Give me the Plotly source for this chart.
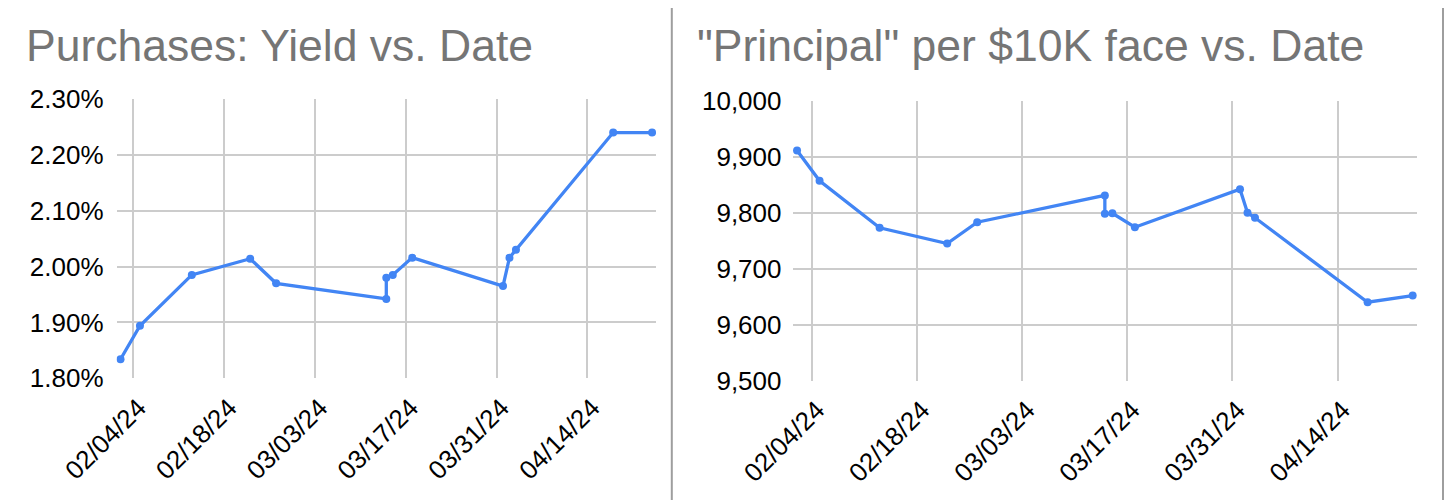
import plotly.graph_objects as go

# ---- data ----
purchase_dates = ["2024-02-02", "2024-02-05", "2024-02-13", "2024-02-22", "2024-02-26",
                  "2024-03-14", "2024-03-14", "2024-03-15", "2024-03-18",
                  "2024-04-01", "2024-04-02", "2024-04-03", "2024-04-18", "2024-04-24"]
yield_pct = [1.834, 1.894, 1.985, 2.014, 1.970, 1.942, 1.980, 1.985, 2.016,
             1.965, 2.016, 2.030, 2.240, 2.240]
principal = [9911, 9857, 9773, 9745, 9783, 9831, 9798, 9799, 9774,
             9842, 9800, 9791, 9640, 9652]

tick_dates = ["2024-02-04", "2024-02-18", "2024-03-03", "2024-03-17", "2024-03-31", "2024-04-14"]
tick_labels = ["02/04/24", "02/18/24", "03/03/24", "03/17/24", "03/31/24", "04/14/24"]
yield_ticks = [1.80, 1.90, 2.00, 2.10, 2.20, 2.30]
yield_tick_labels = ["1.80%", "1.90%", "2.00%", "2.10%", "2.20%", "2.30%"]
principal_ticks = [9500, 9600, 9700, 9800, 9900, 10000]
principal_tick_labels = ["9,500", "9,600", "9,700", "9,800", "9,900", "10,000"]

title_left = "Purchases: Yield vs. Date"
title_right = "\"Principal\" per $10K face vs. Date"

# ---- styling ----
OX, OY = 8, 8            # page body margin in the browser
W, H = 1453 - OX, 500 - OY
BLUE = "#4285F4"
GRID = "#cccccc"
BORDER = "#9e9e9e"
FONT = "Arial, Liberation Sans, sans-serif"
TICK_SIZE = 26
TITLE_SIZE = 44.5
x_range = ["2024-02-01 09:30", "2024-04-24 14:30"]


def px(x):
    return (x - OX) / W


def py(y):
    return 1 - (y - OY) / H


fig = go.Figure()
fig.add_trace(go.Scatter(x=purchase_dates, y=yield_pct, mode="lines+markers",
                         line=dict(color=BLUE, width=3.3), marker=dict(size=8, color=BLUE),
                         xaxis="x", yaxis="y", showlegend=False))
fig.add_trace(go.Scatter(x=purchase_dates, y=principal, mode="lines+markers",
                         line=dict(color=BLUE, width=3.3), marker=dict(size=8, color=BLUE),
                         xaxis="x2", yaxis="y2", showlegend=False))

common_x = dict(type="date", range=x_range, tickmode="array", tickvals=tick_dates,
                ticktext=tick_labels, tickangle=-45, showgrid=True, gridcolor=GRID,
                gridwidth=1.5, zeroline=False, showline=False, ticks="", automargin=False,
                ticklabelstandoff=8, ticklabelshift=5,
                tickfont=dict(size=TICK_SIZE, color="#000000", family=FONT))
common_y = dict(showgrid=True, gridcolor=GRID, gridwidth=1.5, zeroline=False,
                showline=False, ticks="", tickmode="array", automargin=False,
                tickfont=dict(size=TICK_SIZE, color="#000000", family=FONT))

fig.update_layout(
    width=W, height=H, margin=dict(l=0, r=0, t=0, b=0, pad=0, autoexpand=False),
    paper_bgcolor="white", plot_bgcolor="white", showlegend=False,
    font=dict(family=FONT),
    xaxis=dict(common_x, domain=[px(116.6), px(656)], anchor="y"),
    yaxis=dict(common_y, domain=[py(378.3), py(99)], anchor="x",
               range=[1.7999, 2.3001], tickvals=yield_ticks, ticktext=yield_tick_labels,
               ticklabelstandoff=12),
    xaxis2=dict(common_x, domain=[px(792.5), px(1417.2)], anchor="y2"),
    yaxis2=dict(common_y, domain=[py(380.7), py(100.7)], anchor="x2",
                range=[9499.8, 10000.2], tickvals=principal_ticks,
                ticktext=principal_tick_labels, ticklabelstandoff=10),
)

# titles
fig.add_annotation(text=title_left, x=px(24), y=py(45), xref="paper", yref="paper",
                   xanchor="left", yanchor="middle", showarrow=False,
                   font=dict(size=TITLE_SIZE, color="#757575", family=FONT))
fig.add_annotation(text=title_right, x=px(695), y=py(45), xref="paper", yref="paper",
                   xanchor="left", yanchor="middle", showarrow=False,
                   font=dict(size=TITLE_SIZE, color="#757575", family=FONT))

# chart frames
shapes = [
    dict(type="line", xref="paper", yref="paper", x0=px(671.8), x1=px(671.8), y0=0, y1=1,
         line=dict(color=BORDER, width=2)),
    dict(type="line", xref="paper", yref="paper", x0=px(1443), x1=px(1443), y0=0, y1=1,
         line=dict(color=BORDER, width=2)),
]
# spreadsheet cell lines visible beyond the right frame
for yy in [15, 62, 109, 156, 203, 250, 297, 344, 391, 438, 485]:
    shapes.append(dict(type="line", xref="paper", yref="paper", x0=px(1445), x1=1,
                       y0=py(yy), y1=py(yy), line=dict(color="#e0e0e0", width=1.5)))
fig.update_layout(shapes=shapes)

fig.write_html("out.html")
